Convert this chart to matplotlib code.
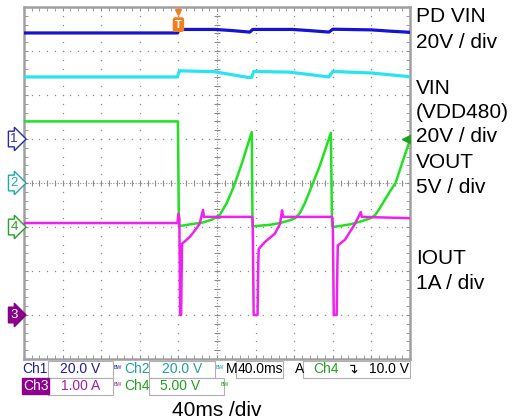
import matplotlib.pyplot as plt
import numpy as np

plt.rcParams["font.family"] = ["Liberation Sans", "DejaVu Sans"]

# time axis in ms, trigger at 0, 40 ms/div
t_pd = [-160, -1, 1, 38, 55, 74, 77, 118, 135, 156, 160, 200, 220, 240]
pd_vin = [48.2, 48.2, 49.8, 49.8, 49.3, 48.6, 49.8, 49.8, 49.3, 48.6, 49.9, 49.6, 49.0, 48.5]

t_vin = [-160, -1, 1, 37, 72, 76, 78, 115, 156, 160, 200, 240]
vin = [48.2, 48.2, 51.0, 50.6, 48.0, 48.0, 50.7, 50.4, 48.2, 50.7, 50.0, 48.3]

t_vout = [-160, -0.5, 0.5, 12, 25, 35, 43, 50, 57, 66, 76, 76.8, 79, 95, 105, 115, 121, 126, 131,
          139.5, 146.7, 158, 159.2, 160.5, 178, 188, 198, 204, 209, 219, 225, 231, 240]
vout = [12.0, 12.0, 0.1, 0.3, 0.5, 0.85, 1.4, 2.7, 4.5, 7.3, 10.8, 0.1, 0.1, 0.25, 0.45, 0.75, 1.0, 1.6, 2.7,
        5.0, 7.0, 10.7, 0.1, 0.0, 0.3, 0.6, 0.95, 1.36, 2.2, 4.0, 5.0, 7.0, 9.9]

t_iout = [-160, -1, 0, 1, 1.8, 2.8, 3.4, 3.8, 7, 12, 17, 22, 25.5, 26.5, 76.5,
          77, 78, 82, 82.8, 83.2, 89.7, 100, 105.3, 107.4, 108.5, 159.2,
          160, 161, 164, 164.8, 165.2, 172.6, 177.8, 183, 189, 190, 240]
iout = [2.09, 2.09, 2.3, 2.2, 0.0, 0.0, 1.0, 1.62, 1.68, 1.78, 1.92, 2.07, 2.39, 2.23, 2.23,
        2.1, 0.0, 0.0, 1.2, 1.5, 1.66, 1.85, 2.07, 2.38, 2.23, 2.23,
        2.1, 0.0, 0.0, 1.2, 1.58, 1.71, 1.89, 2.07, 2.34, 2.23, 2.2]

# channel reference (div from bottom) and scale per div
ch1_ref, ch1_scale = 5, 20.0
ch2_ref, ch2_scale = 4, 20.0
ch3_ref, ch3_scale = 1, 1.0
ch4_ref, ch4_scale = 3, 5.0


def to_div(vals, ref, scale):
    return ref + np.array(vals) / scale


W, H = 513, 419
fig = plt.figure(figsize=(W / 100, H / 100), dpi=100)
ax = fig.add_axes([24 / W, 1 - 359 / H, 386 / W, 352 / H])
ax.set_xlim(-160, 240)
ax.set_ylim(0, 8)

grid_c = "#8c8c8c"
# graticule dots
for k in range(1, 10):
    x = -160 + 40 * k
    if k == 5:
        continue
    ys = np.arange(0.2, 8, 0.2)
    ax.scatter(np.full_like(ys, x), ys, s=1.0, color=grid_c, lw=0, zorder=1)
for k in range(1, 8):
    if k == 4:
        continue
    xs = np.arange(-152, 240, 8)
    ax.scatter(xs, np.full_like(xs, k, dtype=float), s=1.0, color=grid_c, lw=0, zorder=1)
# centre cross
ax.axhline(4, color=grid_c, lw=0.8, ls=(0, (1, 1.5)), zorder=1)
ax.axvline(40, color=grid_c, lw=0.8, ls=(0, (1, 1.5)), zorder=1)
xs = np.arange(-152, 240, 8)
ax.plot(xs, np.full(len(xs), 4.0), ls="none", marker="|", ms=4, mew=0.8, color=grid_c, zorder=1)
ys = np.arange(0.2, 8, 0.2)
ax.plot(np.full(len(ys), 40.0), ys, ls="none", marker="_", ms=4, mew=0.8, color=grid_c, zorder=1)

# edge ticks
ax.set_xticks(np.arange(-160, 241, 40))
ax.set_xticks(np.arange(-160, 241, 8), minor=True)
ax.set_yticks(np.arange(0, 9, 1))
ax.set_yticks(np.arange(0, 8.01, 0.2), minor=True)
ax.tick_params(which="both", direction="in", top=True, right=True, length=3,
               color=grid_c, labelleft=False, labelbottom=False)
for s in ax.spines.values():
    s.set_color("#a0a0a0")
    s.set_linewidth(1.8)

# traces
ax.plot(t_pd, to_div(pd_vin, ch1_ref, ch1_scale), color="#1414d2", lw=2.3, zorder=3)
ax.plot(t_vin, to_div(vin, ch2_ref, ch2_scale), color="#28e4f0", lw=2.3, zorder=3)
ax.plot(t_vout, to_div(vout, ch4_ref, ch4_scale), color="#22e022", lw=1.8, zorder=4)
ax.plot(t_iout, to_div(iout, ch3_ref, ch3_scale), color="#f020f0", lw=1.8, zorder=5)

# trigger level marker for ch4 (10 V)
ax.plot([236], [ch4_ref + 10 / ch4_scale], marker="<", ms=6, color="#20a020", zorder=6)

# trigger position marker
ax.plot([0], [7.88], marker="v", ms=5, color="#f08020", clip_on=False, zorder=6)
ax.text(0, 7.6, "T", ha="center", va="center", color="white", fontsize=8, fontweight="bold",
        bbox=dict(boxstyle="round,pad=0.15", fc="#f08020", ec="#f08020"), zorder=6)

# channel markers on the left
markers = [("1", ch1_ref, "#2828b4", "white", "#2828b4"),
           ("2", ch2_ref, "#20a8a8", "white", "#20a8a8"),
           ("4", ch4_ref, "#28a028", "white", "#28a028"),
           ("3", ch3_ref, "white", "#880088", "#880088")]
for lab, ref, tc, fc, ec in markers:
    yf = (1 - 359 / H) + ref / 8 * (352 / H)
    fig.text(14 / W, yf, lab, ha="center", va="center", color=tc, fontsize=9.5,
             bbox=dict(boxstyle="rarrow,pad=0.14", fc=fc, ec=ec, lw=1))

# right-hand labels
right_labels = [("PD VIN", 17), ("20V / div", 42), ("VIN", 88), ("(VDD480)", 113),
                ("20V / div", 137), ("VOUT", 163), ("5V / div", 187),
                ("IOUT", 258), ("1A / div", 283)]
for txt, yp in right_labels:
    fig.text(416 / W, 1 - yp / H, txt, ha="left", va="center", fontsize=15, color="black")


# status bar
def px(x, y):
    return x / W, 1 - y / H


def box(x0, x1, y0, y1):
    r = plt.Rectangle((x0 / W, 1 - y1 / H), (x1 - x0) / W, (y1 - y0) / H,
                      transform=fig.transFigure, fc="white", ec="#b0b0b0", lw=0.8)
    fig.add_artist(r)


c1, c2, c3, c4 = "#1e1e96", "#20a0a0", "#a020a0", "#20a020"
r1, r2 = 369, 386
fs = 10
bw = 3.8
box(48, 113, 361, 378)
box(149, 215, 361, 378)
box(236, 283, 361, 378)
box(303, 410, 361, 378)
box(48, 113, 378, 395)
box(149, 224, 378, 395)

fig.text(*px(22, r1), "Ch1", color=c1, fontsize=fs, va="center")
fig.text(*px(100, r1), "20.0 V", color=c1, fontsize=fs, va="center", ha="right")
fig.text(*px(114, r1 - 2), "BW", color=c1, fontsize=bw, va="center")
fig.text(*px(124, r1), "Ch2", color=c2, fontsize=fs, va="center")
fig.text(*px(202, r1), "20.0 V", color=c2, fontsize=fs, va="center", ha="right")
fig.text(*px(216, r1 - 2), "BW", color=c2, fontsize=bw, va="center")
fig.text(*px(226, r1), "M", color="black", fontsize=fs, va="center")
fig.text(*px(238, r1), "40.0ms", color="black", fontsize=fs, va="center")
fig.text(*px(295, r1), "A", color="black", fontsize=fs, va="center")
fig.text(*px(313, r1), "Ch4", color=c4, fontsize=fs, va="center")
fig.text(*px(347, r1), "\u21b4", color="black", fontsize=fs, va="center")
fig.text(*px(409, r1), "10.0 V", color="black", fontsize=fs, va="center", ha="right")

fig.text(*px(23, r2), "Ch3", color="white", fontsize=fs, va="center",
         bbox=dict(boxstyle="square,pad=0.05", fc="#900090", ec="#900090"))
fig.text(*px(100, r2), "1.00 A", color=c3, fontsize=fs, va="center", ha="right")
fig.text(*px(114, r2 - 2), "BW", color=c3, fontsize=bw, va="center")
fig.text(*px(124, r2), "Ch4", color=c4, fontsize=fs, va="center")
fig.text(*px(200, r2), "5.00 V", color=c4, fontsize=fs, va="center", ha="right")
fig.text(*px(221, r2 - 2), "BW", color=c4, fontsize=bw, va="center")

fig.text(*px(217, 410), "40ms /div", ha="center", va="center", fontsize=15, color="black")

fig.savefig("out.png", dpi=100)
